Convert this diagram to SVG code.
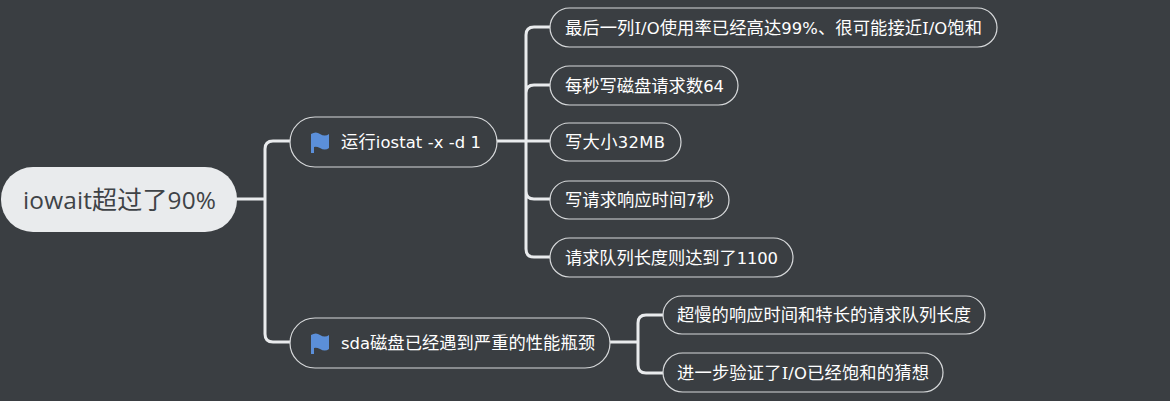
<svg xmlns="http://www.w3.org/2000/svg" width="1170" height="401" viewBox="0 0 1170 401">
<style>
text{font-family:"Noto Sans CJK SC","Noto Sans",sans-serif}
.root rect{fill:#e9ebed}
.root text{fill:#3f4347;font-size:25px}
.root tspan{font-family:"Open Sans",sans-serif;font-size:24.4px}
.n rect{fill:#3a3e42;stroke:#d6d8da;stroke-width:1.2}
.n text{fill:#fff;font-size:17.3px}
.n tspan{font-family:"DejaVu Sans",sans-serif;font-size:16.4px}
.n tspan.s{font-family:"DejaVu Serif",serif}
.c path{fill:none;stroke:#e9ebed;stroke-width:3;stroke-linecap:round}
.flag{fill:#5b8fd9}
</style>
<rect width="1170" height="401" fill="#3a3e42"/>
<g class="c" id="connectors">
<path d="M237 199H265M265 199V149Q265 141 273 141H290M265 199V334Q265 342 273 342H290"/>
<path d="M497 141H526M526 141V35Q526 27 534 27H550M526 141V93Q526 85 534 85H550M526 141H550M526 141V191Q526 199 534 199H550M526 141V249Q526 257 534 257H550"/>
<path d="M610 342H638M638 342V323Q638 315 646 315H663M638 342V365Q638 373 646 373H663"/>
</g>
<g class="root" id="root"><rect x="1" y="167" width="236" height="65" rx="32" ry="32"/><text x="23" y="209" textLength="193"><tspan>iowait</tspan>超过了<tspan>90%</tspan></text></g>
<g class="n" id="n1"><rect x="290" y="117" width="207" height="50" rx="25"/><path class="flag" d="M311 134Q316 131 320 134Q325 137 329 134V148Q325 151 320 148Q316 146 314 147V153H311Z"/><text x="341" y="148" textLength="140">运行<tspan>iostat -x -d 1</tspan></text></g>
<g class="n" id="n2"><rect x="290" y="318" width="320" height="50" rx="25"/><path class="flag" d="M311 335Q316 332 320 335Q325 338 329 335V349Q325 352 320 349Q316 347 314 348V354H311Z"/><text x="341" y="349" textLength="254"><tspan>sda</tspan>磁盘已经遇到严重的性能瓶颈</text></g>
<g class="n" id="a1"><rect x="550" y="8" width="447" height="39" rx="19.5"/><text x="565" y="34" textLength="417">最后一列<tspan class="s">I</tspan><tspan>/O</tspan>使用率已经高达<tspan>99%</tspan>、很可能接近<tspan class="s">I</tspan><tspan>/O</tspan>饱和</text></g>
<g class="n" id="a2"><rect x="550" y="66" width="188" height="39" rx="19.5"/><text x="565" y="92" textLength="159">每秒写磁盘请求数<tspan>64</tspan></text></g>
<g class="n" id="a3"><rect x="550" y="123" width="131" height="38" rx="19"/><text x="565" y="148" textLength="100">写大小<tspan>32MB</tspan></text></g>
<g class="n" id="a4"><rect x="550" y="181" width="179" height="38" rx="19"/><text x="565" y="206" textLength="149">写请求响应时间<tspan>7</tspan>秒</text></g>
<g class="n" id="a5"><rect x="550" y="238" width="243" height="39" rx="19.5"/><text x="565" y="264" textLength="213">请求队列长度则达到了<tspan>1100</tspan></text></g>
<g class="n" id="b1"><rect x="663" y="296" width="322" height="38" rx="19"/><text x="677" y="321" textLength="294">超慢的响应时间和特长的请求队列长度</text></g>
<g class="n" id="b2"><rect x="663" y="353" width="280" height="39" rx="19.5"/><text x="677" y="379" textLength="252">进一步验证了<tspan class="s">I</tspan><tspan>/O</tspan>已经饱和的猜想</text></g>
</svg>
